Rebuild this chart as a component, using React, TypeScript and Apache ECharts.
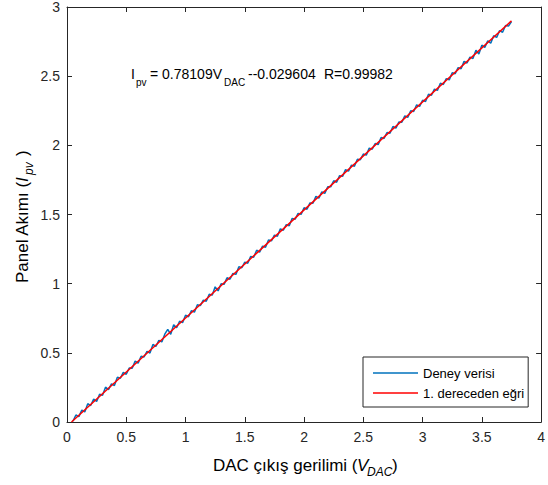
import React, { useEffect, useRef } from "react";
import * as echarts from "echarts";

// Measured data (Deney verisi)
const measX = [0.05,0.075,0.1,0.125,0.15,0.175,0.2,0.225,0.25,0.275,0.3,0.325,0.35,0.375,0.4,0.425,0.45,0.475,0.5,0.525,0.55,0.575,0.6,0.625,0.65,0.675,0.7,0.725,0.75,0.775,0.8,0.825,0.85,0.875,0.9,0.925,0.95,0.975,1,1.025,1.05,1.075,1.1,1.125,1.15,1.175,1.2,1.225,1.25,1.275,1.3,1.325,1.35,1.375,1.4,1.425,1.45,1.475,1.5,1.525,1.55,1.575,1.6,1.625,1.65,1.675,1.7,1.725,1.75,1.775,1.8,1.825,1.85,1.875,1.9,1.925,1.95,1.975,2,2.025,2.05,2.075,2.1,2.125,2.15,2.175,2.2,2.225,2.25,2.275,2.3,2.325,2.35,2.375,2.4,2.425,2.45,2.475,2.5,2.525,2.55,2.575,2.6,2.625,2.65,2.675,2.7,2.725,2.75,2.775,2.8,2.825,2.85,2.875,2.9,2.925,2.95,2.975,3,3.025,3.05,3.075,3.1,3.125,3.15,3.175,3.2,3.225,3.25,3.275,3.3,3.325,3.35,3.375,3.4,3.425,3.45,3.475,3.5,3.525,3.55,3.575,3.6,3.625,3.65,3.675,3.7,3.725,3.75];
const measY = [0.005,0.051,0.039,0.086,0.073,0.132,0.119,0.166,0.148,0.200,0.193,0.252,0.234,0.275,0.263,0.324,0.316,0.359,0.345,0.390,0.388,0.440,0.425,0.475,0.470,0.510,0.499,0.561,0.546,0.590,0.579,0.635,0.669,0.634,0.703,0.681,0.728,0.718,0.772,0.761,0.805,0.794,0.848,0.841,0.881,0.873,0.924,0.917,0.977,0.948,1.000,0.995,1.043,1.032,1.074,1.067,1.123,1.115,1.156,1.148,1.197,1.191,1.242,1.228,1.271,1.263,1.316,1.310,1.351,1.343,1.396,1.386,1.427,1.419,1.472,1.466,1.508,1.501,1.549,1.538,1.584,1.581,1.631,1.618,1.664,1.653,1.701,1.700,1.744,1.733,1.781,1.776,1.824,1.814,1.857,1.849,1.900,1.896,1.937,1.929,1.980,1.972,2.013,2.005,2.056,2.050,2.093,2.087,2.136,2.124,2.169,2.167,2.213,2.202,2.250,2.245,2.293,2.282,2.326,2.317,2.369,2.362,2.406,2.397,2.449,2.440,2.482,2.473,2.525,2.518,2.562,2.554,2.607,2.595,2.638,2.628,2.687,2.660,2.724,2.708,2.755,2.739,2.792,2.780,2.829,2.817,2.866,2.862,2.894];

// First-order fit line endpoints
const fitX = [0.038, 3.75];
const fitY = [0.0, 2.8995];

const seriesNames = ["Deney verisi", "1. dereceden eğri"];

const FONT = "'Liberation Sans', Arial, Helvetica, sans-serif";
const AX = "#262626";

export default function App() {
  const ref = useRef<HTMLDivElement>(null);
  useEffect(() => {
    if (!ref.current) return;
    const chart = echarts.init(ref.current, undefined, { renderer: "svg" });
    const measData = measX.map((x, i) => [x, measY[i]]);
    const fitData = fitX.map((x, i) => [x, fitY[i]]);
    const axisCommon = {
      type: "value" as const,
      axisLine: { show: true, onZero: false, lineStyle: { color: AX, width: 1 } },
      axisTick: { show: true, inside: true, length: 5, lineStyle: { color: AX } },
      splitLine: { show: false },
    };
    const txt = (text: string, x: number, y: number, size: number, extra: any = {}) => ({
      type: "text",
      x,
      y,
      z: 100,
      style: {
        text,
        fill: "#000",
        font: `${extra.italic ? "italic " : ""}${size}px ${FONT}`,
        align: extra.align || "left",
        verticalAlign: "middle",
      },
    });
    chart.setOption({
      animation: false,
      backgroundColor: "#fff",
      grid: { left: 67, right: 6, top: 7, bottom: 63, containLabel: false },
      xAxis: [
        {
          ...axisCommon,
          position: "bottom",
          min: 0,
          max: 4,
          interval: 0.5,
          axisLabel: { color: AX, fontSize: 14, fontFamily: FONT, margin: 8 },
        },
        {
          ...axisCommon,
          position: "top",
          min: 0,
          max: 4,
          interval: 0.5,
          axisLabel: { show: false },
        },
      ],
      yAxis: [
        {
          ...axisCommon,
          position: "left",
          min: 0,
          max: 3,
          interval: 0.5,
          axisLabel: { color: AX, fontSize: 14, fontFamily: FONT, margin: 7 },
        },
        {
          ...axisCommon,
          position: "right",
          min: 0,
          max: 3,
          interval: 0.5,
          axisLabel: { show: false },
        },
      ],
      legend: {
        orient: "vertical",
        left: 363,
        top: 357,
        backgroundColor: "#fff",
        borderColor: AX,
        borderWidth: 1,
        borderRadius: 0,
        padding: [9, 4, 7, 10],
        icon: "rect",
        itemWidth: 45,
        itemHeight: 1.6,
        itemGap: 6,
        textStyle: { fontSize: 13, fontFamily: FONT, color: "#000", lineHeight: 14 },
        data: seriesNames,
      },
      series: [
        {
          name: seriesNames[0],
          type: "line",
          data: measData,
          symbol: "none",
          lineStyle: { color: "#0072BD", width: 1.5 },
          itemStyle: { color: "#0072BD" },
          z: 2,
        },
        {
          name: seriesNames[1],
          type: "line",
          data: fitData,
          symbol: "none",
          lineStyle: { color: "#FF0000", width: 1.5 },
          itemStyle: { color: "#FF0000" },
          z: 3,
        },
      ],
      graphic: [
        // annotation
        txt("I", 131, 74, 14),
        txt("pv", 136, 82, 10),
        txt("= 0.78109V", 150, 74, 14),
        txt("DAC", 224, 82, 10),
        txt("--0.029604", 248, 74, 14),
        txt("R=0.99982", 324, 74, 14),
        // x-axis title
        txt("DAC çıkış gerilimi (", 213, 465, 17),
        txt("V", 357, 465, 17, { italic: true }),
        txt("DAC", 367, 472, 12, { italic: true }),
        txt(")", 392, 465, 17),
        // y-axis title (rotated)
        {
          type: "group",
          x: 22,
          y: 283,
          rotation: Math.PI / 2,
          z: 100,
          children: [
            txt("Panel Akımı (", 0, 0, 17),
            txt("I", 101, 0, 17, { italic: true }),
            txt("pv", 108, 7, 12, { italic: true }),
            txt(")", 127, 0, 17),
          ],
        },
      ],
    });
    return () => chart.dispose();
  }, []);
  return (
    <div
      ref={ref}
      style={{ position: "fixed", left: 0, top: 0, width: 548, height: 485 }}
    />
  );
}
